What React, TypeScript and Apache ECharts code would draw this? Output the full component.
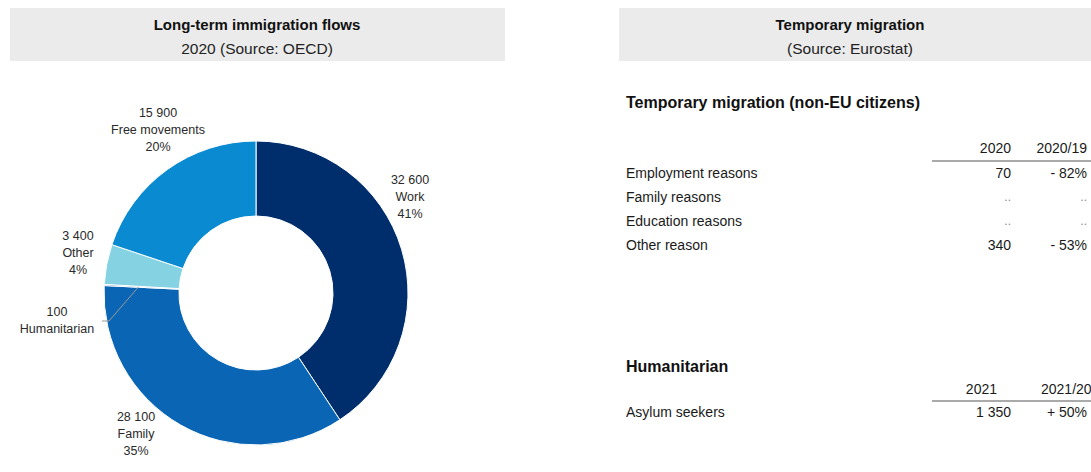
import React, { useEffect, useRef } from "react";
import * as echarts from "echarts";

// ---- Data ----
const flowCategories = ["Work", "Family", "Humanitarian", "Other", "Free movements"];
const flowValues = [32600, 28100, 100, 3400, 15900];
const flowColors = ["#002d6b", "#0a66b4", "#0a5aa8", "#84d2e2", "#0a8ad0"];

const tempTitle = "Temporary migration (non-EU citizens)";
const tempHeaders = ["2020", "2020/19"];
const tempRows = ["Employment reasons", "Family reasons", "Education reasons", "Other reason"];
const temp2020 = ["70", "..", "..", "340"];
const tempChange = ["- 82%", "..", "..", "- 53%"];

const humTitle = "Humanitarian";
const humHeaders = ["2021", "2021/20"];
const humRows = ["Asylum seekers"];
const hum2021 = ["1 350"];
const humChange = ["+ 50%"];

// ---- Layout ----
const FONT = "'Liberation Sans', Arial, sans-serif";
const CX = 256;
const CY = 293;
const R_IN = 77;
const R_OUT = 152;
const labelCenters: number[][] = [
  [410, 197],
  [136, 434],
  [57, 320],
  [78, 253],
  [158, 130],
];

const fmt = (v: number) => String(v).replace(/\B(?=(\d{3})+(?!\d))/g, " ");

function txt(text: string, x: number, y: number, opts: any = {}) {
  return {
    type: "text",
    silent: true,
    style: {
      text,
      x,
      y,
      fill: opts.fill || "#1a1a1a",
      fontSize: opts.fontSize || 14,
      fontWeight: opts.fontWeight || "normal",
      fontFamily: FONT,
      textAlign: opts.align || "left",
      textVerticalAlign: "middle",
    },
  };
}

function tableGraphics(
  title: string,
  headers: string[],
  rows: string[],
  col1: string[],
  col2: string[],
  titleY: number,
  headerY: number,
  lineY: number,
  firstRowY: number,
  header1Right: number,
  header2Align: string,
  header2X: number
) {
  const g: any[] = [];
  g.push(txt(title, 626, titleY, { fontSize: 16, fontWeight: "bold", fill: "#111" }));
  g.push(txt(headers[0], header1Right, headerY, { align: "right" }));
  g.push(txt(headers[1], header2X, headerY, { align: header2Align }));
  g.push({
    type: "line",
    silent: true,
    shape: { x1: 932, y1: lineY, x2: 1091, y2: lineY },
    style: { stroke: "#aaaaaa", lineWidth: 2 },
  });
  rows.forEach((r, i) => {
    const y = firstRowY + i * 24;
    g.push(txt(r, 626, y));
    const c1 = col1[i];
    const c2 = col2[i];
    g.push(txt(c1, 1011, y, { align: "right", fill: c1 === ".." ? "#888" : "#1a1a1a", fontSize: c1 === ".." ? 12 : 14 }));
    g.push(txt(c2, 1087, y, { align: "right", fill: c2 === ".." ? "#888" : "#1a1a1a", fontSize: c2 === ".." ? 12 : 14 }));
  });
  return g;
}

export default function App() {
  const ref = useRef<HTMLDivElement>(null);

  useEffect(() => {
    document.body.style.margin = "0";
    if (!ref.current) return;
    const chart = echarts.init(ref.current, null, { renderer: "svg" });

    const total = flowValues.reduce((a, b) => a + b, 0);
    const cumBefore = (i: number) => flowValues.slice(0, i).reduce((a, b) => a + b, 0);

    // leader line for the tiny Humanitarian slice, starting at the slice's mid-angle
    const hi = flowCategories.indexOf("Humanitarian");
    const frac = (cumBefore(hi) + flowValues[hi] / 2) / total;
    const th = frac * Math.PI * 2;
    const rm = (R_IN + R_OUT) / 2 + 3;
    const sx = CX + rm * Math.sin(th);
    const sy = CY - rm * Math.cos(th);

    const graphics: any[] = [
      { type: "rect", silent: true, shape: { x: 10, y: 8, width: 495, height: 53 }, style: { fill: "#ebebeb" } },
      { type: "rect", silent: true, shape: { x: 619, y: 8, width: 472, height: 53 }, style: { fill: "#ebebeb" } },
      txt("Long-term immigration flows", 257, 24, { fontSize: 15, fontWeight: "bold", fill: "#111", align: "center" }),
      txt("2020 (Source: OECD)", 257, 48, { fontSize: 15.5, fill: "#222", align: "center" }),
      txt("Temporary migration", 850, 24, { fontSize: 15, fontWeight: "bold", fill: "#111", align: "center" }),
      txt("(Source: Eurostat)", 850, 48, { fontSize: 15.5, fill: "#222", align: "center" }),
      ...tableGraphics(tempTitle, tempHeaders, tempRows, temp2020, tempChange, 102, 148, 161, 173, 1011, "right", 1087),
      ...tableGraphics(humTitle, humHeaders, humRows, hum2021, humChange, 366, 389, 401, 412, 997, "left", 1041),
      {
        type: "polyline",
        silent: true,
        z: 100,
        shape: {
          points: [
            [sx, sy],
            [109, 321],
            [102, 321],
          ],
        },
        style: { stroke: "#9a9a9a", lineWidth: 1, fill: "none" },
      },
    ];

    const option: any = {
      animation: false,
      backgroundColor: "#ffffff",
      graphic: graphics,
      series: [
        {
          type: "pie",
          z: 1,
          center: [CX, CY],
          radius: [R_IN, R_OUT],
          startAngle: 90,
          clockwise: true,
          avoidLabelOverlap: false,
          percentPrecision: 0,
          itemStyle: { borderColor: "#ffffff", borderWidth: 1 },
          label: {
            show: true,
            position: "outside",
            fontFamily: FONT,
            fontSize: 12.5,
            lineHeight: 17,
            color: "#2a2a2a",
            align: "center",
            formatter: (p: any) =>
              p.percent >= 1 ? `${fmt(p.value)}\n${p.name}\n${p.percent}%` : `${fmt(p.value)}\n${p.name}`,
          },
          labelLine: { show: false },
          labelLayout: (params: any) => {
            const [x, y] = labelCenters[params.dataIndex];
            return { x, y, align: "center", verticalAlign: "middle" };
          },
          data: flowCategories.map((name, i) => ({
            name,
            value: flowValues[i],
            itemStyle: { color: flowColors[i] },
          })),
        },
      ],
    };

    chart.setOption(option);
    return () => chart.dispose();
  }, []);

  return <div ref={ref} style={{ width: 1091, height: 472 }} />;
}
